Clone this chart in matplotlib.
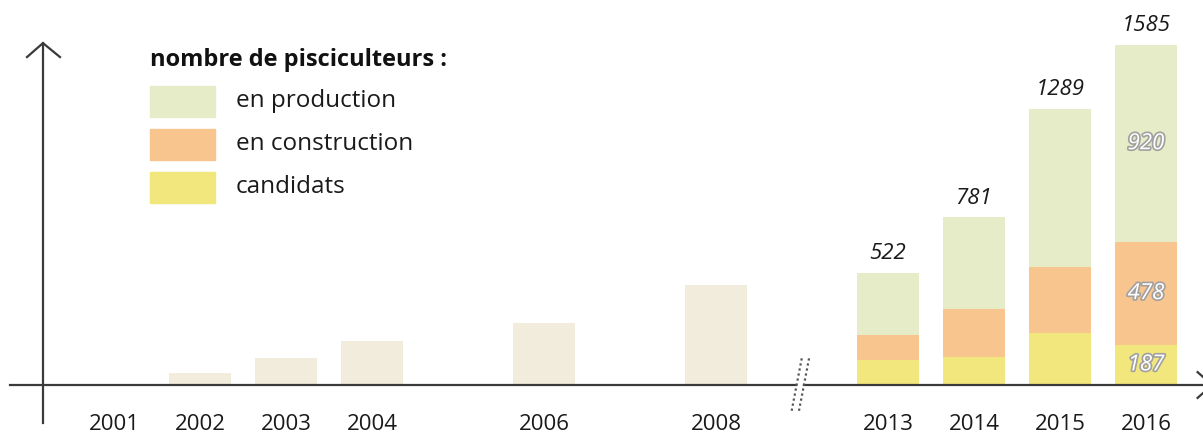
import matplotlib
matplotlib.use("Agg")
import matplotlib.pyplot as plt
import matplotlib.patheffects as pe
import numpy as np

plt.rcParams['font.family'] = ['Open Sans', 'DejaVu Sans']

# early years (single beige bars)
early_years = ["2001", "2002", "2003", "2004", "2006", "2008"]
early_pos = [0, 1, 2, 3, 5, 7]
early_vals = [6, 56, 126, 205, 289, 466]

# recent years (stacked)
late_years = ["2013", "2014", "2015", "2016"]
late_pos = [9, 10, 11, 12]
candidats = [117, 130, 242, 187]
construction = [116, 224, 308, 478]
production = [289, 427, 739, 920]
totals = [522, 781, 1289, 1585]

legend_title = "nombre de pisciculteurs :"
legend_labels = ["en production", "en construction", "candidats"]

c_prod = "#e5ecc7"
c_cons = "#f8c58e"
c_cand = "#f2e77c"
c_early = "#f1ecdc"
axis_col = "#3a3a3a"

fig = plt.figure(figsize=(12.03, 4.37), dpi=100)
ax = fig.add_axes([0, 0, 1, 1])
ax.set_xlim(-1.3256, 12.663)
ax.set_ylim(-242.4, 1795)
ax.axis("off")

w = 0.73
ax.bar(early_pos, early_vals, width=w, color=c_early, zorder=2)

cand = np.array(candidats)
cons = np.array(construction)
prod = np.array(production)
ax.bar(late_pos, cand, width=w, color=c_cand, zorder=2)
ax.bar(late_pos, cons, width=w, bottom=cand, color=c_cons, zorder=2)
ax.bar(late_pos, prod, width=w, bottom=cand + cons, color=c_prod, zorder=2)

# totals above bars
for p, t in zip(late_pos, totals):
    ax.annotate(str(t), (p, t), xytext=(0, 14), textcoords="offset points",
                ha="center", va="center", fontsize=16, style="italic", color="#1a1a1a")

# outlined values inside the last bar
outline = [pe.withStroke(linewidth=2.4, foreground="#a0a0a0")]
last = len(late_pos) - 1
mids = [cand[last] / 2, cand[last] + cons[last] / 2, cand[last] + cons[last] + prod[last] / 2]
vals = [cand[last], cons[last], prod[last]]
for m, v in zip(mids, vals):
    ax.text(late_pos[last], m, str(v), ha="center", va="center", fontsize=16,
            style="italic", color="white", path_effects=outline, zorder=4)

# year labels
for p, y in zip(early_pos + late_pos, early_years + late_years):
    ax.text(p, -182, y, ha="center", va="center", fontsize=16, color="#1a1a1a")

# x axis with break
break_x = 7.95
ax.plot([-1.21, break_x - 0.02], [0, 0], color=axis_col, lw=1.6, zorder=3)
ax.plot([break_x + 0.07, 12.75], [0, 0], color=axis_col, lw=1.6, zorder=3)
ax.plot([12.6, 12.77, 12.6], [60, 0, -60], color=axis_col, lw=1.6, zorder=3)
for dx in [0, 0.085]:
    ax.plot([break_x - 0.07 + dx, break_x + 0.05 + dx], [-120, 130],
            color="#555555", lw=1.6, ls=(0, (1, 1.3)), zorder=4)

# y axis
ax.plot([-0.826, -0.826], [-177, 1594], color=axis_col, lw=1.6, zorder=3)
ax.plot([-1.0116, -0.826, -0.628], [1529, 1594, 1529], color=axis_col, lw=1.6, zorder=3)

# legend
fig.text(150 / 1203, 1 - 60 / 437, legend_title, fontsize=17, fontweight="bold",
         ha="left", va="center", color="#111111")
cols = [c_prod, c_cons, c_cand]
tops = [86, 129, 172]
for col, top, lab in zip(cols, tops, legend_labels):
    fig.patches.append(plt.Rectangle((150 / 1203, 1 - (top + 31) / 437), 65 / 1203, 31 / 437,
                                     transform=fig.transFigure, color=col))
    fig.text(236 / 1203, 1 - (top + 15) / 437, lab, fontsize=17.5, ha="left", va="center",
             color="#1a1a1a")

fig.savefig("out.png", dpi=100)
